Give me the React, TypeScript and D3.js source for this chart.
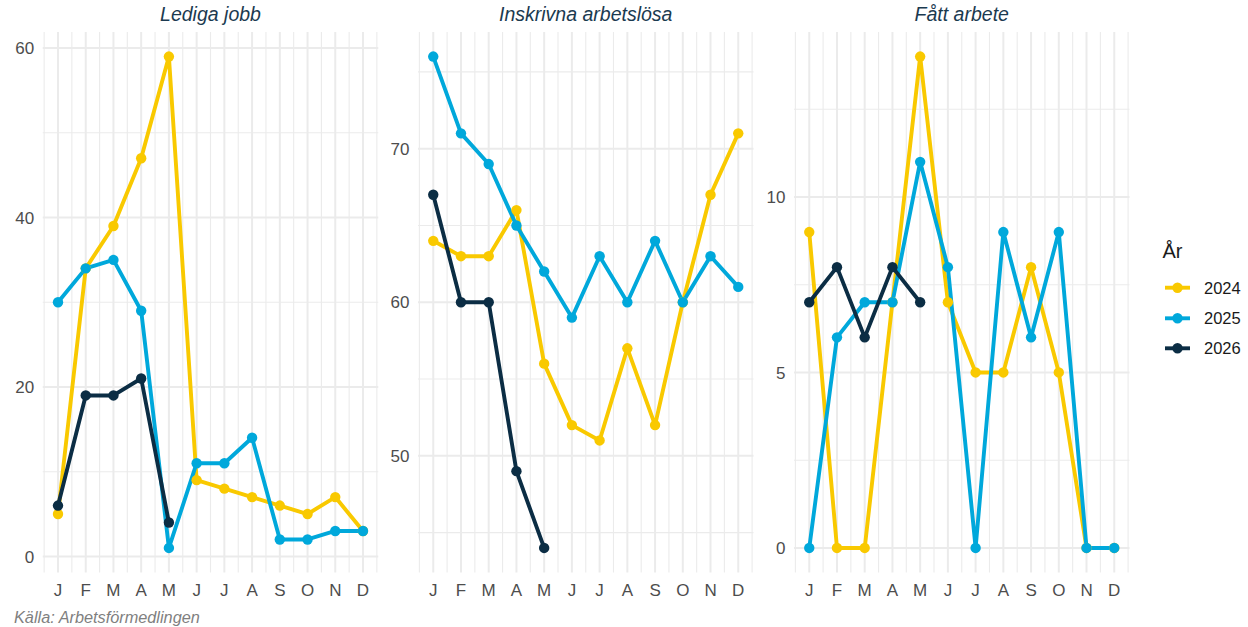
import React from "react";
import * as d3 from "d3";

const months = ["J", "F", "M", "A", "M", "J", "J", "A", "S", "O", "N", "D"];
const years = ["2024", "2025", "2026"];
const yearColors = ["#F9C900", "#00A8DB", "#0B2D44"];

const panelTitles = ["Lediga jobb", "Inskrivna arbetslösa", "Fått arbete"];

// Lediga jobb
const ledigaJobb2024 = [5, 34, 39, 47, 59, 9, 8, 7, 6, 5, 7, 3];
const ledigaJobb2025 = [30, 34, 35, 29, 1, 11, 11, 14, 2, 2, 3, 3];
const ledigaJobb2026 = [6, 19, 19, 21, 4];

// Inskrivna arbetslösa
const inskrivna2024 = [64, 63, 63, 66, 56, 52, 51, 57, 52, 60, 67, 71];
const inskrivna2025 = [76, 71, 69, 65, 62, 59, 63, 60, 64, 60, 63, 61];
const inskrivna2026 = [67, 60, 60, 49, 44];

// Fått arbete
const fattArbete2024 = [9, 0, 0, 7, 14, 7, 5, 5, 8, 5, 0, 0];
const fattArbete2025 = [0, 6, 7, 7, 11, 8, 0, 9, 6, 9, 0, 0];
const fattArbete2026 = [7, 8, 6, 8, 7];

const yTicks = [
  [0, 20, 40, 60],
  [50, 60, 70],
  [0, 5, 10],
];
const yMinorTicks = [
  [10, 30, 50],
  [45, 55, 65, 75],
  [2.5, 7.5, 12.5],
];

const caption = "Källa: Arbetsförmedlingen";
const legendTitle = "År";

const panelData = [
  [ledigaJobb2024, ledigaJobb2025, ledigaJobb2026],
  [inskrivna2024, inskrivna2025, inskrivna2026],
  [fattArbete2024, fattArbete2025, fattArbete2026],
];

const W = 1248;
const H = 627;
const panelLefts = [42.75, 418, 794];
const panelWidth = 335.5;
const panelTop = 32;
const panelBottom = 572.5;
const font = "'Liberation Sans', Arial, Helvetica, sans-serif";
const grid = "#EBEBEB";
const lineW = 3.9;
const pointR = 5.2;

function Panel({ idx }: { idx: number }) {
  const series = panelData[idx];
  const left = panelLefts[idx];
  const all = series.flat();
  const [mn, mx] = d3.extent(all) as [number, number];
  const pad = (mx - mn) * 0.05;
  const y = d3.scaleLinear().domain([mn - pad, mx + pad]).range([panelBottom, panelTop]);
  const x = d3.scaleLinear().domain([1 - 0.55, 12 + 0.55]).range([left, left + panelWidth]);
  const monthIdx = d3.range(1, 13);
  const xMinor = d3.range(0.5, 13, 1).filter((v) => v >= 0.45 && v <= 12.55);
  const line = d3
    .line<number>()
    .x((_, i) => x(i + 1))
    .y((d) => y(d));
  return (
    <g>
      {yMinorTicks[idx].map((t) => (
        <line key={"ym" + t} x1={left} x2={left + panelWidth} y1={y(t)} y2={y(t)} stroke={grid} strokeWidth={1.1} />
      ))}
      {xMinor.map((t) => (
        <line key={"xm" + t} x1={x(t)} x2={x(t)} y1={panelTop} y2={panelBottom} stroke={grid} strokeWidth={1.1} />
      ))}
      {yTicks[idx].map((t) => (
        <line key={"y" + t} x1={left} x2={left + panelWidth} y1={y(t)} y2={y(t)} stroke={grid} strokeWidth={2} />
      ))}
      {monthIdx.map((t) => (
        <line key={"x" + t} x1={x(t)} x2={x(t)} y1={panelTop} y2={panelBottom} stroke={grid} strokeWidth={2} />
      ))}
      {yTicks[idx].map((t) => (
        <text key={"yl" + t} x={left - 8.5} y={y(t)} dy="0.36em" textAnchor="end" fontSize={17} fill="#4D4D4D" fontFamily={font}>
          {t}
        </text>
      ))}
      {months.map((m, i) => (
        <text key={"xl" + i} x={x(i + 1)} y={596} textAnchor="middle" fontSize={17} fill="#4D4D4D" fontFamily={font}>
          {m}
        </text>
      ))}
      <text x={left + panelWidth / 2} y={20.5} textAnchor="middle" fontSize={19.5} fontStyle="italic" fill="#1B3A50" fontFamily={font}>
        {panelTitles[idx]}
      </text>
      {series.map((s, si) => (
        <path key={"l" + si} d={line(s) || ""} fill="none" stroke={yearColors[si]} strokeWidth={lineW} strokeLinejoin="round" />
      ))}
      {series.map((s, si) =>
        s.map((v, i) => <circle key={"p" + si + "-" + i} cx={x(i + 1)} cy={y(v)} r={pointR} fill={yearColors[si]} />)
      )}
    </g>
  );
}

export default function App() {
  const legendRows = [287.7, 318.3, 348.3];
  return (
    <svg width={W} height={H} style={{ position: "absolute", left: 0, top: 0, background: "#fff" }}>
      <rect width={W} height={H} fill="#fff" />
      {[0, 1, 2].map((i) => (
        <Panel key={i} idx={i} />
      ))}
      <text x={14} y={623} fontSize={16.3} fontStyle="italic" fill="#7F7F7F" fontFamily={font}>
        {caption}
      </text>
      <text x={1162.5} y={258} fontSize={20} fill="#1A1A1A" fontFamily={font}>
        {legendTitle}
      </text>
      {years.map((yr, i) => (
        <g key={yr}>
          <line x1={1165} x2={1190} y1={legendRows[i]} y2={legendRows[i]} stroke={yearColors[i]} strokeWidth={lineW} />
          <circle cx={1177.5} cy={legendRows[i]} r={pointR} fill={yearColors[i]} />
          <text x={1204} y={legendRows[i]} dy="0.36em" fontSize={16.5} fill="#1A1A1A" fontFamily={font}>
            {yr}
          </text>
        </g>
      ))}
    </svg>
  );
}
